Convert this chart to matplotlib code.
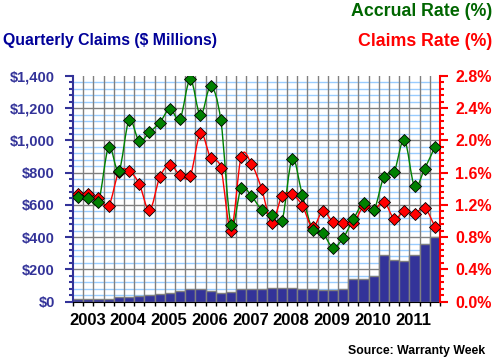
import matplotlib
matplotlib.use("Agg")
import matplotlib.pyplot as plt
import numpy as np
from matplotlib.path import Path
from matplotlib.patches import PathPatch
from matplotlib.ticker import MultipleLocator, FuncFormatter

# quarterly data, 2003Q1 .. 2011Q4
claims = [14, 18, 18, 18, 26, 26, 34, 38, 47, 55, 65, 78, 78, 65, 51, 59,
          78, 78, 78, 82, 82, 82, 76, 76, 69, 69, 76, 140, 140, 156, 287, 258,
          249, 287, 355, 398]
accrual_rate = [1.30, 1.28, 1.24, 1.92, 1.62, 2.25, 1.99, 2.10, 2.22, 2.39,
                2.27, 2.76, 2.31, 2.67, 2.25, 0.95, 1.41, 1.31, 1.14, 1.07,
                1.00, 1.77, 1.32, 0.89, 0.85, 0.67, 0.79, 1.02, 1.22, 1.13,
                1.55, 1.61, 2.01, 1.43, 1.65, 1.92]
claims_rate = [1.34, 1.33, 1.29, 1.19, 1.61, 1.62, 1.46, 1.13, 1.54, 1.70,
               1.57, 1.56, 2.09, 1.78, 1.66, 0.88, 1.80, 1.71, 1.40, 0.98,
               1.31, 1.33, 1.19, 0.92, 1.12, 0.99, 0.98, 0.97, 1.18, 1.13,
               1.24, 1.03, 1.12, 1.09, 1.16, 0.93]
years = ["2003", "2004", "2005", "2006", "2007", "2008", "2009", "2010", "2011"]

BLUE = "#333399"
GREEN = "#008000"
RED = "#ff0000"


def smooth_path(x, y):
    """Catmull-Rom style smoothed path (like a spreadsheet 'smoothed line')."""
    x = np.asarray(x, float)
    y = np.asarray(y, float)
    verts = [(x[0], y[0])]
    codes = [Path.MOVETO]
    n = len(x)
    for i in range(n - 1):
        p0 = i - 1 if i > 0 else i
        p3 = i + 2 if i + 2 < n else i + 1
        c1 = (x[i] + (x[i + 1] - x[p0]) / 6, y[i] + (y[i + 1] - y[p0]) / 6)
        c2 = (x[i + 1] - (x[p3] - x[i]) / 6, y[i + 1] - (y[p3] - y[i]) / 6)
        verts += [c1, c2, (x[i + 1], y[i + 1])]
        codes += [Path.CURVE4] * 3
    return Path(verts, codes)


plt.rcParams["font.family"] = ["Liberation Sans", "DejaVu Sans"]
plt.rcParams["font.weight"] = "bold"

fig = plt.figure(figsize=(4.95, 3.61), dpi=100)
ax = fig.add_axes([0.1475, 0.1648, 0.7414, 0.6247])
ax2 = ax.twinx()

n = len(claims)
x = np.arange(n)

ax.set_xlim(-0.5, n - 0.5)
ax.set_ylim(0, 1400)
ax2.set_ylim(0, 2.8)

# grid
for v in np.arange(40, 1400, 40):
    major = v % 200 == 0
    ax.axhline(v, color="#808080" if major else "#99ccff", lw=1.0, zorder=0)
for q in np.arange(0.5, n - 0.5, 1):
    ax.axvline(q, color="#808080", lw=1.0, zorder=0.5)

ax.bar(x, claims, width=1.0, color=BLUE, edgecolor="#808080", linewidth=1.0,
       zorder=2)

# rate lines on the right axis
ax2.add_patch(PathPatch(smooth_path(x, accrual_rate), fill=False,
                        edgecolor=GREEN, lw=1.0, zorder=3))
ax2.add_patch(PathPatch(smooth_path(x, claims_rate), fill=False,
                        edgecolor=RED, lw=1.0, zorder=3))
ax2.plot(x, claims_rate, ls="none", marker="D", ms=6, mfc=RED,
         mec="black", mew=0.6, zorder=4)
ax2.plot(x, accrual_rate, ls="none", marker="D", ms=6, mfc=GREEN,
         mec="black", mew=0.6, zorder=5)
ax2.set_zorder(ax.get_zorder() + 1)
ax2.patch.set_visible(False)

# axes styling
ax.spines["top"].set_visible(False)
ax2.spines["top"].set_visible(False)
ax.spines["left"].set_color(BLUE)
ax.spines["left"].set_linewidth(1.5)
ax.spines["bottom"].set_color("black")
ax.spines["right"].set_visible(False)
ax2.spines["left"].set_visible(False)
ax2.spines["bottom"].set_visible(False)
ax2.spines["right"].set_color(RED)
ax2.spines["right"].set_linewidth(1.5)

ax.yaxis.set_major_locator(MultipleLocator(200))
ax.yaxis.set_minor_locator(MultipleLocator(40))
ax.yaxis.set_major_formatter(FuncFormatter(lambda v, p: f"${v:,.0f}"))
ax.tick_params(axis="y", which="major", length=6, width=1.5, color=BLUE,
               labelcolor=BLUE, labelsize=10.5, pad=7)
ax.tick_params(axis="y", which="minor", length=3, width=1.5, color=BLUE)

ax2.yaxis.set_major_locator(MultipleLocator(0.4))
ax2.yaxis.set_minor_locator(MultipleLocator(0.08))
ax2.yaxis.set_major_formatter(FuncFormatter(lambda v, p: f"{v:.1f}%"))
ax2.tick_params(axis="y", which="major", length=6, width=1.5, color=RED,
                labelcolor=RED, labelsize=11.5, pad=5)
ax2.tick_params(axis="y", which="minor", length=3, width=1.5, color=RED)

# x axis: tick marks at quarter boundaries, year labels
ax.set_xticks(np.arange(-0.5, n, 1), minor=True)
ax.tick_params(axis="x", which="minor", length=3, width=1, color="black")
ax.set_xticks(0.9 + 4 * np.arange(len(years)))
ax.set_xticklabels(years)
ax.tick_params(axis="x", which="major", length=0, labelsize=12, pad=8,
               labelcolor="black")

fig.text(0.006, 0.889, "Quarterly Claims ($ Millions)", color="#000099",
         fontsize=11.4, fontweight="bold", ha="left", va="center")
fig.text(0.994, 0.967, "Accrual Rate (%)", color="#006600",
         fontsize=12.8, fontweight="bold", ha="right", va="center")
fig.text(0.994, 0.884, "Claims Rate (%)", color=RED,
         fontsize=12.8, fontweight="bold", ha="right", va="center")
fig.text(0.98, 0.028, "Source: Warranty Week", color="black",
         fontsize=8.8, fontweight="bold", ha="right", va="center")

fig.savefig("out.png", dpi=100)
